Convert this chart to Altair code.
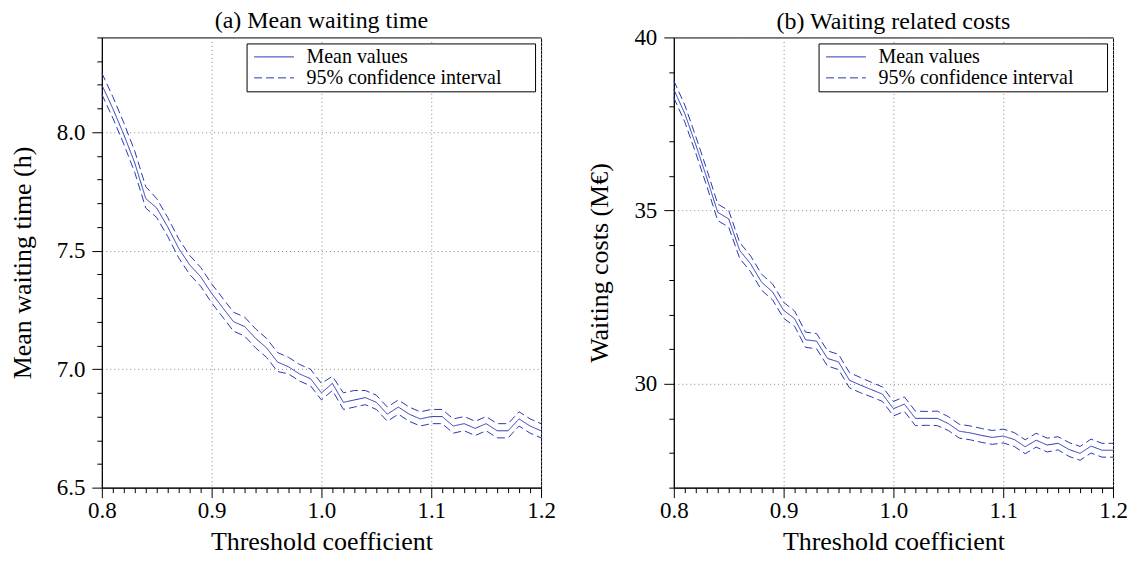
import altair as alt
import pandas as pd

# ---------------- data ----------------
threshold = [round(0.80 + 0.01 * i, 2) for i in range(41)]

wait_mean = [8.20, 8.10, 7.99, 7.87, 7.72, 7.68, 7.60, 7.51, 7.44, 7.39,
             7.32, 7.26, 7.20, 7.18, 7.13, 7.09, 7.03, 7.01, 6.98, 6.96,
             6.90, 6.94, 6.86, 6.87, 6.88, 6.86, 6.81, 6.84, 6.81, 6.79,
             6.80, 6.80, 6.76, 6.77, 6.75, 6.77, 6.74, 6.74, 6.79, 6.76, 6.74]
wait_upper = [8.25, 8.15, 8.04, 7.92, 7.77, 7.72, 7.64, 7.55, 7.48, 7.43,
              7.36, 7.30, 7.24, 7.22, 7.17, 7.13, 7.07, 7.05, 7.02, 7.00,
              6.94, 6.97, 6.90, 6.91, 6.91, 6.89, 6.84, 6.87, 6.84, 6.82,
              6.83, 6.83, 6.79, 6.80, 6.78, 6.80, 6.77, 6.77, 6.82, 6.79, 6.77]
wait_lower = [8.16, 8.06, 7.95, 7.83, 7.68, 7.64, 7.56, 7.47, 7.40, 7.35,
              7.28, 7.22, 7.16, 7.14, 7.09, 7.05, 6.99, 6.98, 6.95, 6.93,
              6.87, 6.91, 6.83, 6.84, 6.85, 6.83, 6.78, 6.81, 6.78, 6.76,
              6.77, 6.77, 6.73, 6.74, 6.72, 6.74, 6.71, 6.71, 6.76, 6.73, 6.71]

cost_mean = [38.50, 37.80, 36.90, 35.95, 34.95, 34.76, 33.85, 33.46, 32.93, 32.65,
             32.12, 31.88, 31.27, 31.23, 30.73, 30.63, 30.10, 29.96, 29.83, 29.70,
             29.28, 29.41, 29.00, 29.00, 29.00, 28.85, 28.63, 28.58, 28.51, 28.45,
             28.49, 28.39, 28.18, 28.37, 28.23, 28.28, 28.10, 27.99, 28.20, 28.08, 28.08]
cost_upper = [38.75, 38.05, 37.14, 36.19, 35.19, 35.00, 34.08, 33.69, 33.16, 32.88,
              32.35, 32.10, 31.49, 31.45, 30.95, 30.85, 30.32, 30.18, 30.04, 29.91,
              29.49, 29.62, 29.21, 29.20, 29.21, 29.05, 28.83, 28.78, 28.71, 28.65,
              28.69, 28.59, 28.38, 28.57, 28.43, 28.47, 28.30, 28.19, 28.40, 28.28, 28.28]
cost_lower = [38.26, 37.56, 36.66, 35.71, 34.71, 34.52, 33.62, 33.23, 32.70, 32.42,
              31.89, 31.66, 31.05, 31.01, 30.51, 30.41, 29.88, 29.74, 29.62, 29.49,
              29.07, 29.20, 28.79, 28.80, 28.79, 28.65, 28.43, 28.38, 28.31, 28.25,
              28.29, 28.19, 27.98, 28.17, 28.03, 28.09, 27.90, 27.79, 28.00, 27.88, 27.88]

legend_labels = ["Mean values", "95% confidence interval"]
x_ticks = threshold
wait_ticks = [round(6.5 + 0.1 * i, 1) for i in range(20)]
cost_ticks = list(range(27, 41))

FONT = "Liberation Serif"
BLUE = "#2838b4"


def make_df(mean, upper, lower):
    rows = []
    for name, vals, kind in [("mean", mean, legend_labels[0]),
                             ("upper", upper, legend_labels[1]),
                             ("lower", lower, legend_labels[1])]:
        for x, y in zip(threshold, vals):
            rows.append({"x": x, "y": y, "series": name, "kind": kind})
    return pd.DataFrame(rows)


def panel(df, title, title_offset, ytitle, ydomain, yticks, ymajor_test, yfmt, ytitle_pad):
    x_major = "abs(datum.value*10 - round(datum.value*10)) < 1e-6"
    return alt.Chart(df).mark_line(strokeWidth=1, color=BLUE).encode(
        x=alt.X("x:Q",
                scale=alt.Scale(domain=[0.8, 1.2], nice=False, zero=False),
                axis=alt.Axis(
                    title="Threshold coefficient",
                    values=x_ticks,
                    labelExpr=f"({x_major}) ? format(datum.value, '.1f') : ''",
                    tickSize={"condition": {"test": x_major, "value": 10}, "value": 5},
                    gridOpacity={"condition": {"test": x_major, "value": 1}, "value": 0},
                    labelPadding=2, titlePadding=6,
                )),
        y=alt.Y("y:Q",
                scale=alt.Scale(domain=ydomain, nice=False, zero=False),
                axis=alt.Axis(
                    title=ytitle,
                    values=yticks,
                    labelExpr=f"({ymajor_test}) ? format(datum.value, '{yfmt}') : ''",
                    tickSize={"condition": {"test": ymajor_test, "value": 10}, "value": 5},
                    gridOpacity={"condition": {"test": ymajor_test, "value": 1}, "value": 0},
                    labelPadding=7, titlePadding=ytitle_pad,
                )),
        strokeDash=alt.StrokeDash(
            "kind:N",
            scale=alt.Scale(domain=legend_labels, range=[[1, 0], [8, 4]]),
            legend=alt.Legend(
                title=None, orient="top-right", offset=6,
                strokeColor="black", fillColor="white", padding=3,
                cornerRadius=0, symbolType="M-2,0H2", symbolSize=400,
                symbolOffset=14,
                symbolStrokeColor=BLUE, symbolStrokeWidth=1,
                labelFont=FONT, labelFontSize=20, labelColor="black",
                labelOffset=22, rowPadding=0, labelLimit=0,
                labelExpr="datum.label + '" + "\u00a0" * 6 + "\u200b'",
            )),
        detail="series:N",
    ).properties(
        width=440, height=451,
        title=alt.TitleParams(title, font=FONT, fontSize=24, fontWeight="normal",
                              color="black", offset=title_offset),
    )


left = panel(make_df(wait_mean, wait_upper, wait_lower),
             "(a) Mean waiting time", 4, "Mean waiting time (h)", [6.5, 8.4],
             wait_ticks, "abs(datum.value*2 - round(datum.value*2)) < 1e-6", ".1f", 21)
right = panel(make_df(cost_mean, cost_upper, cost_lower),
              "(b) Waiting related costs", -8, "Waiting costs (M€)", [27, 40],
              cost_ticks, "abs(datum.value/5 - round(datum.value/5)) < 1e-6", ".0f", 21)

chart = alt.hconcat(left, right, spacing=30).resolve_scale(
    strokeDash="independent"
).properties(
    background="white",
    padding={"left": 0, "top": 0, "right": 0, "bottom": 0},
).configure_view(
    stroke="black", strokeWidth=1
).configure_axis(
    labelFont=FONT, labelFontSize=23, labelColor="black",
    titleFont=FONT, titleFontSize=26, titleFontWeight="normal", titleColor="black",
    domainColor="black", tickColor="black", tickWidth=1,
    gridColor="#888888", gridDash=[1, 3], gridWidth=1,
    labelFlush=False,
)

chart.save("out.html", embed_options={"renderer": "svg", "actions": False})
